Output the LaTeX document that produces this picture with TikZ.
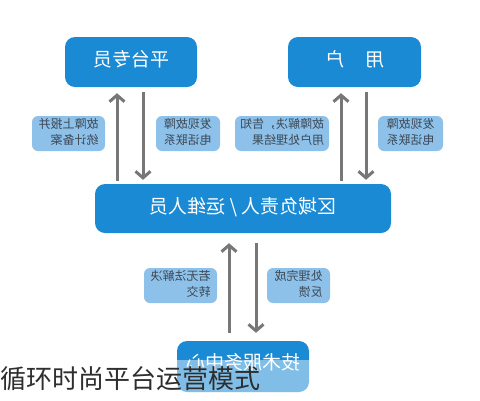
\documentclass[tikz,border=0pt]{standalone}
\usepackage{fontspec}
\usepackage{graphicx}
\newfontfamily\cjk{Noto Sans CJK SC}
\usetikzlibrary{arrows.meta,calc}
\definecolor{mainblue}{HTML}{1A8AD4}
\definecolor{lblblue}{HTML}{8DC1EA}
\definecolor{lbltext}{HTML}{3E4955}
\definecolor{arrgray}{HTML}{777777}
\definecolor{captext}{HTML}{2E2E2E}
\newcommand{\mirtxt}[1]{\reflectbox{\begin{tabular}{@{}l@{}}#1\end{tabular}}}
\tikzset{
  mainbox/.style={fill=mainblue, rounded corners=10pt, text=white, inner sep=0pt,
    font=\cjk\fontsize{19}{23}\selectfont},
  lblbox/.style={fill=lblblue, rounded corners=6pt, text=lbltext, inner sep=0pt,
    minimum height=35pt, font=\cjk\fontsize{12}{15.5}\selectfont},
  arr/.style={draw=arrgray, line width=3pt, -{Straight Barb[length=6.5pt,width=15pt]}}
}
\begin{document}
\begin{tikzpicture}[x=1pt,y=-1pt]
\useasboundingbox (0,0) rectangle (480,400);
\fill[white] (0,0) rectangle (480,400);
% main boxes
\node[mainbox, minimum width=132pt, minimum height=50pt] (tl) at (131,62) {\mirtxt{平台专员}};
\node[mainbox, minimum width=133pt, minimum height=50pt] (tr) at (354.5,62) {\mirtxt{用\hspace{21pt}户}};
\node[mainbox, minimum width=296pt, minimum height=49pt] (mid) at (243,208.5) {\mirtxt{区域负责人 / 运维人员}};
\node[mainbox, minimum width=132pt, minimum height=51pt] (bot) at (243,366.5) {};
\node (bottxt) at (243,365) {\color{white}\cjk\fontsize{19}{23}\selectfont\mirtxt{技术服务中心}};
% labels
\node[lblbox, minimum width=73pt] (l1) at (68.5,133.5) {\mirtxt{故障上报并\\统计备案}};
\node[lblbox, minimum width=64pt] (l2) at (188,133.5) {\mirtxt{发现故障\\电话联系}};
\node[lblbox, minimum width=94pt] (l3) at (282,133.5) {\mirtxt{故障解决，告知\\用户处理结果}};
\node[lblbox, minimum width=65pt] (l4) at (410.5,133.5) {\mirtxt{发现故障\\电话联系}};
\node[lblbox, minimum width=73pt] (l5) at (180.5,285.5) {\mirtxt{若无法解决\\转交}};
\node[lblbox, minimum width=63pt] (l6) at (298.5,285.5) {\mirtxt{处理完成\\反馈}};
% arrow coordinates
\coordinate (a1) at ($(tl.south)+(-14,0)$);
\coordinate (a2) at ($(tl.south)+(12,0)$);
\coordinate (a3) at ($(tr.south)+(-13.5,0)$);
\coordinate (a4) at ($(tr.south)+(11.5,0)$);
\coordinate (a5) at ($(bot.north)+(-14,0)$);
\coordinate (a6) at ($(bot.north)+(13,0)$);
\draw[arr, shorten <=3pt, shorten >=6pt] (a1 |- mid.north) -- (a1);
\draw[arr, shorten <=5pt, shorten >=4pt] (a2) -- (a2 |- mid.north);
\draw[arr, shorten <=3pt, shorten >=6pt] (a3 |- mid.north) -- (a3);
\draw[arr, shorten <=5pt, shorten >=4pt] (a4) -- (a4 |- mid.north);
\draw[arr, shorten <=8pt, shorten >=10pt] (a5) -- (a5 |- mid.south);
\draw[arr, shorten <=10pt, shorten >=8pt] (a6 |- mid.south) -- (a6);
% overlay band and caption
\fill[white, opacity=0.45] (0,360) rectangle (480,400);
\node[anchor=west, inner sep=0pt, text=captext, font=\cjk\fontsize{26}{28}\selectfont] (cap) at (0,379) {循环时尚平台运营模式};
\end{tikzpicture}
\end{document}
